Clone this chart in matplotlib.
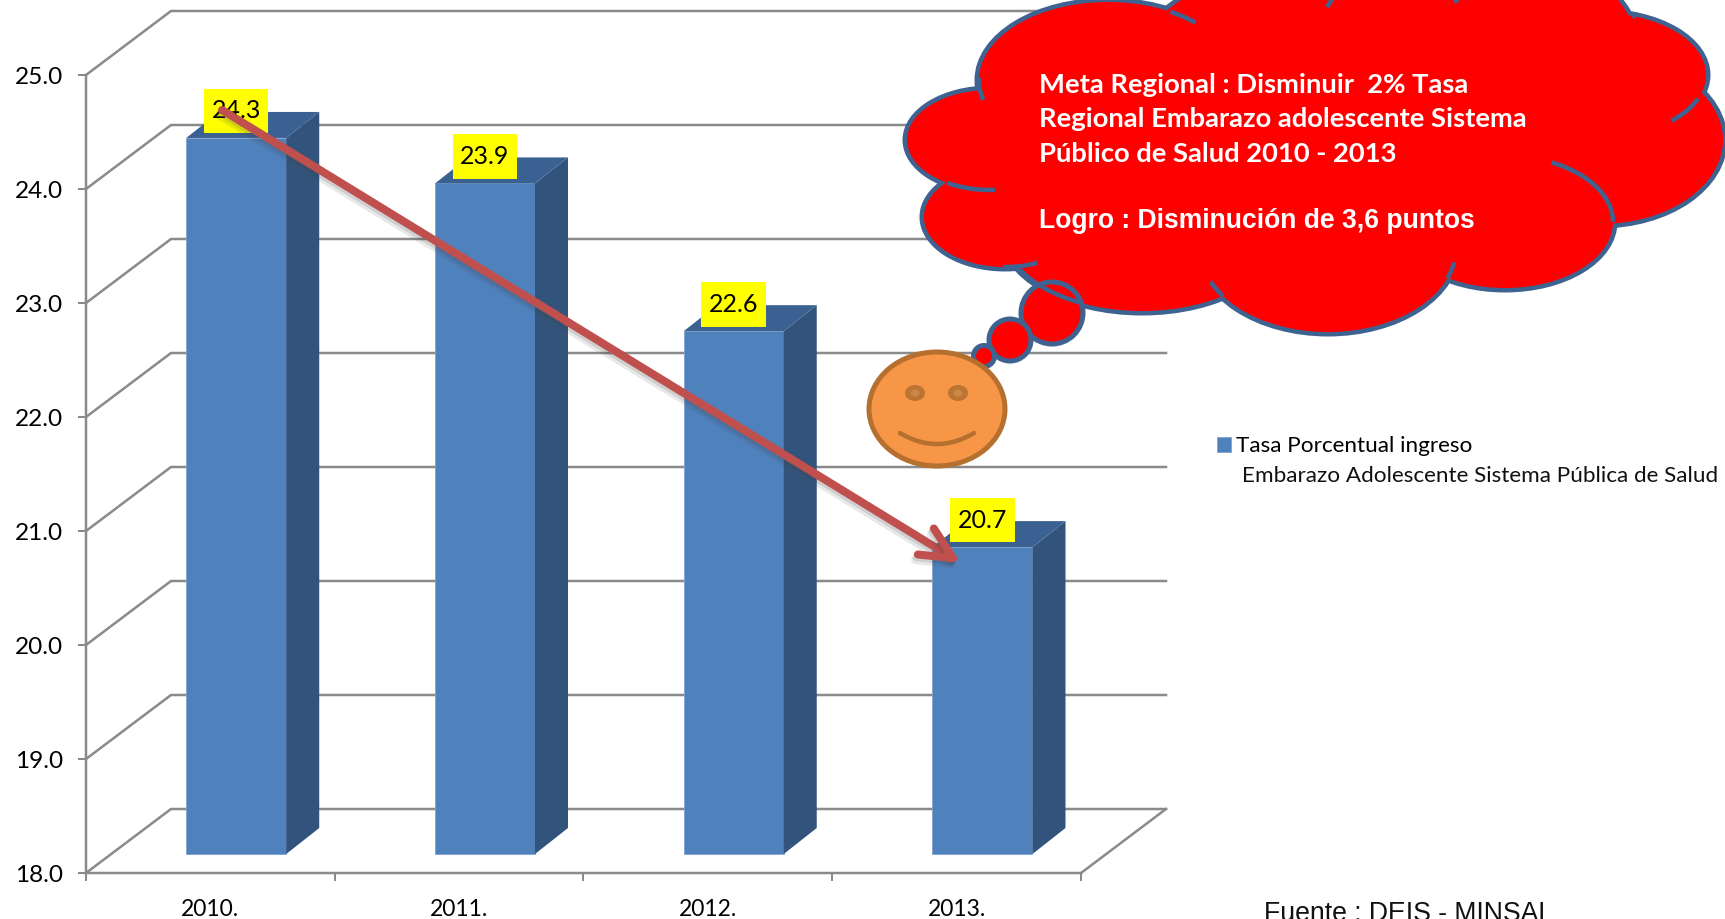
import numpy as np
import matplotlib
matplotlib.use('Agg')
import matplotlib.pyplot as plt
import matplotlib.patheffects as pe
from matplotlib.patches import Ellipse, Polygon, FancyArrowPatch

years = ['2010.', '2011.', '2012.', '2013.']
tasa = [24.3, 23.9, 22.6, 20.7]
yticks = [18, 19, 20, 21, 22, 23, 24, 25]
serie1 = 'Tasa Porcentual ingreso'
serie2 = 'Embarazo Adolescente Sistema Pública de Salud'
nota = ['Meta Regional : Disminuir  2% Tasa', 'Regional Embarazo adolescente Sistema', 'Público de Salud 2010 - 2013']
logro = 'Logro : Disminución de 3,6 puntos'
fuente = 'Fuente : DEIS - MINSAL'

W, H = 1725, 919
GRID = '#8A8A8A'
FRONT, SIDE, TOP = '#4F81BD', '#32547C', '#3A6191'
RED, BLUE = '#FF0000', '#3E6391'
px = 0.72  # one pixel in points at dpi 100

plt.rcParams['font.family'] = ['Lato', 'DejaVu Sans']
fig = plt.figure(figsize=(W/100, H/100), dpi=100)
ax = fig.add_axes([86/W, (H-873)/H, 995/W, 798/H])
ax.set_xlim(0, 4)
ax.set_ylim(18, 25)

# fake 3d: depth of the walls and of the bars, in data units
wall_dx, wall_dy = 85/248.75, 64/114
bar_dx, bar_dy = 33/248.75, 26/114
lift = 19/114
xs = np.arange(len(years)) + 0.604
width = 0.402

for y in yticks:
    ax.plot([0, wall_dx, 4+wall_dx], [y, y+wall_dy, y+wall_dy], color=GRID, lw=2.5*px, clip_on=False, zorder=1)
ax.plot([4, 4+wall_dx], [18, 18+wall_dy], color=GRID, lw=2.5*px, clip_on=False, zorder=1)

heights = (np.array(tasa)-18)*0.997
ax.bar(xs, heights, width, bottom=18+lift, color=FRONT, edgecolor='#7FA3CF', lw=0.6, zorder=3, label=serie1)
for x, h in zip(xs, heights):
    r = x+width/2
    l = x-width/2
    t = 18+lift+h
    ax.add_patch(Polygon([[r, 18+lift], [r+bar_dx, 18+lift+bar_dy], [r+bar_dx, t+bar_dy], [r, t]], color=SIDE, lw=0, zorder=3, clip_on=False))
    ax.add_patch(Polygon([[l, t], [l+bar_dx, t+bar_dy], [r+bar_dx, t+bar_dy], [r, t]], color=TOP, lw=0, zorder=3, clip_on=False))

for x, h, v in zip(xs, heights, tasa):
    ax.annotate(f'{v:.1f}', (x, 18+lift+h), xytext=(0, 27*px), textcoords='offset points', ha='center', va='center',
                fontsize=18, zorder=5, annotation_clip=False,
                bbox=dict(boxstyle='square,pad=0.3', fc='#FFFF00', ec='none', mutation_aspect=1.45))

for s in ['top', 'right']:
    ax.spines[s].set_visible(False)
for s in ['left', 'bottom']:
    ax.spines[s].set_color(GRID)
    ax.spines[s].set_linewidth(2.5*px)
ax.patch.set_alpha(0)
ax.set_yticks(yticks)
ax.set_yticklabels([f'{y:.1f}' for y in yticks], fontsize=17.6)
ax.tick_params(axis='y', length=8*px, width=2*px, color=GRID, pad=11)
ax.set_xticks(range(5))
ax.set_xticklabels([])
ax.set_xticks(np.arange(4)+0.5, years, minor=True, fontsize=16.5)
ax.tick_params(axis='x', which='major', length=8*px, width=2*px, color=GRID)
ax.tick_params(axis='x', which='minor', length=0, pad=19)

leg = ax.legend(loc='upper left', bbox_to_anchor=(1217/W, 1-436/H), bbox_transform=fig.transFigure, frameon=False,
                prop={'size': 16.2}, handlelength=0.64, handleheight=0.64, handletextpad=0.2, borderpad=0, borderaxespad=0)

# overlay in pixel coordinates for the hand drawn shapes
ov = fig.add_axes([0, 0, 1, 1], zorder=5)
ov.set_xlim(0, W)
ov.set_ylim(H, 0)
ov.axis('off')

shadow = [pe.SimpleLineShadow(offset=(-1, -2), shadow_color='#444444', alpha=0.15),
          pe.SimpleLineShadow(offset=(-2, -4), shadow_color='#444444', alpha=0.12), pe.Normal()]
arrow = FancyArrowPatch((222, 110), (961, 563), arrowstyle='->,head_length=23,head_width=11', mutation_scale=1,
                        color='#C0504D', lw=8*px, shrinkA=0, shrinkB=0, zorder=2, path_effects=shadow)
ov.add_patch(arrow)

lobes = dict(A=(1108, 80, 129, 78), B=(990, 140, 83, 50), C=(1005, 217, 81, 50), D=(1142, 230, 140, 81),
             E=(1328, 248, 128, 84), F=(1505, 222, 108, 66), G=(1600, 140, 123, 84), H=(1600, 75, 106, 62),
             I=(1250, 90, 120, 110), J=(1390, 50, 100, 80), K=(1530, 60, 110, 100), mid=(1320, 150, 300, 130))
for cx, cy, rx, ry in lobes.values():
    ov.add_patch(Ellipse((cx, cy), 2*rx, 2*ry, fc=RED, ec=BLUE, lw=9*px, zorder=3))
for cx, cy, rx, ry in lobes.values():
    ov.add_patch(Ellipse((cx, cy), 2*rx, 2*ry, fc=RED, ec='none', zorder=4))

for cx, cy, r in [(1052, 313, 31), (1010, 340, 21), (984, 356, 10.5)]:
    ov.add_patch(Ellipse((cx, cy), 2*r, 2*r, fc=RED, ec=BLUE, lw=5*px, zorder=4.2))

def frag(name, p0, p1):
    # piece of a lobe outline between two points, on the short way round
    cx, cy, rx, ry = lobes[name]
    a0 = np.arctan2((p0[1]-cy)/ry, (p0[0]-cx)/rx)
    a1 = np.arctan2((p1[1]-cy)/ry, (p1[0]-cx)/rx)
    if a1-a0 > np.pi:
        a1 -= 2*np.pi
    elif a0-a1 > np.pi:
        a1 += 2*np.pi
    t = np.linspace(a0, a1, 50)
    ov.plot(cx+rx*np.cos(t), cy+ry*np.sin(t), color=BLUE, lw=4.5*px, solid_capstyle='butt', zorder=4.5)

# inner pieces of the outline that stay visible inside the cloud
frag('A', (1172, 10), (1195, 23))
frag('A', (979, 78), (984, 100))
frag('B', (948, 182), (995, 188))
frag('C', (1003, 267), (1037, 262))
frag('D', (1017, 265), (1082, 302))
frag('E', (1206, 283), (1218, 298))
frag('E', (1447, 278), (1451, 262))
frag('F', (1613, 222), (1552, 162))
frag('H', (1695, 98), (1669, 119))
frag('H', (1633, 15), (1632, 23))
ov.plot([1327, 1333], [7, -2], color=BLUE, lw=4.5*px, solid_capstyle='butt', zorder=4.5)
ov.plot([1457, 1455], [3, -2], color=BLUE, lw=4.5*px, solid_capstyle='butt', zorder=4.5)

# smiley
ORANGE_D = '#B5702F'
ov.add_patch(Ellipse((937, 409), 136, 114, fc='#F79646', ec=ORANGE_D, lw=5*px, zorder=6))
for ex in [915, 958]:
    ov.add_patch(Ellipse((ex, 393), 20, 16, fc='#BC7434', ec='none', zorder=6))
    ov.add_patch(Ellipse((ex, 393), 9, 7, fc='#CB8746', ec='none', zorder=6))
t = np.linspace(-1, 1, 40)
ov.plot(937+37*t, 444-11*t**2, color=ORANGE_D, lw=4.5*px, solid_capstyle='round', zorder=6)

for line, y in zip(nota, [85, 119, 154]):
    ov.text(1039, y, line, color='white', fontweight='bold', fontsize=19.7, va='center', zorder=7)
ov.text(1039, 221, logro, color='white', fontweight='bold', fontsize=19.1, va='center', family='Liberation Sans', zorder=7)

ov.text(1242, 476, serie2, fontsize=16.2, va='center', color='#111111')
ov.text(1264, 921, fuente, fontsize=19.2, va='baseline', family='Liberation Sans', color='#111111')

fig.savefig('out.png', dpi=100)
